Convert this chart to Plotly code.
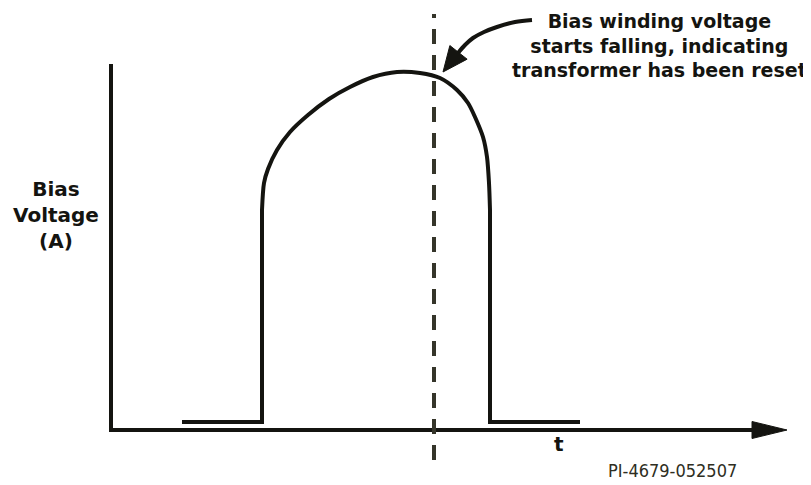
import numpy as np
import plotly.graph_objects as go

# bias winding voltage waveform (schematic units: time, voltage)
wave_t = [7.2, 15.2, 15.2, 15.4, 15.8, 16.7, 18.0, 19.8, 21.9, 24.0, 26.3, 28.7, 31.0,
          33.0, 34.7, 35.8, 36.5, 37.3, 37.7, 37.9, 38.0, 38.0, 47.0]
wave_v = [0.8, 0.8, 22.0, 24.7, 26.1, 28.0, 29.8, 31.5, 33.1, 34.3, 35.3, 35.8, 35.7,
          35.2, 34.0, 32.7, 31.3, 29.3, 27.3, 24.7, 22.0, 0.8, 0.8]

# reset instant (dashed marker) and its extent
reset_t = 32.4
reset_v = [-3.0, 41.6]

# axes extents
x_axis_end = 67.7
y_axis_top = 36.6

# callout leader curve
callout_t = [42.2, 40.5, 38.7, 37.4, 36.3, 35.5, 34.8]
callout_v = [41.0, 40.8, 40.3, 39.8, 39.2, 38.5, 37.7]
callout_tip = (33.3, 35.8)

INK = "#141410"
BOLD = "DejaVu Sans"


def head(tip, tail, length, half_w):
    """filled triangular arrowhead pointing from tail to tip"""
    tip = np.array(tip, float)
    d = tip - np.array(tail, float)
    d /= np.linalg.norm(d)
    n = np.array([-d[1], d[0]])
    base = tip - d * length
    pts = [tip, base + n * half_w, base - n * half_w, tip]
    return [p[0] for p in pts], [p[1] for p in pts]


fig = go.Figure()

# axes
fig.add_trace(go.Scatter(x=[0.1, 0.1, x_axis_end - 3.2], y=[y_axis_top, 0, 0],
                         mode="lines", line=dict(color=INK, width=4)))
hx, hy = head((x_axis_end, 0), (0, 0), 3.5, 0.85)
fig.add_trace(go.Scatter(x=hx, y=hy, mode="lines", fill="toself",
                         fillcolor=INK, line=dict(color=INK, width=1)))

# dashed reset marker
fig.add_trace(go.Scatter(x=[reset_t, reset_t], y=reset_v, mode="lines",
                         line=dict(color="#35352a", width=4, dash="15px,11px")))

# waveform: straight edges plus a smooth top
top = slice(2, len(wave_t) - 2)
fig.add_trace(go.Scatter(x=wave_t[:3], y=wave_v[:3], mode="lines",
                         line=dict(color=INK, width=4)))
fig.add_trace(go.Scatter(x=wave_t[top], y=wave_v[top], mode="lines", line_shape="spline",
                         line=dict(color=INK, width=4, smoothing=0.8)))
fig.add_trace(go.Scatter(x=wave_t[-3:], y=wave_v[-3:], mode="lines",
                         line=dict(color=INK, width=4)))

# callout arrow
fig.add_trace(go.Scatter(x=callout_t, y=callout_v, mode="lines", line_shape="spline",
                         line=dict(color=INK, width=4)))
hx, hy = head(callout_tip, (callout_t[-1], callout_v[-1]), 2.5, 1.1)
fig.add_trace(go.Scatter(x=hx, y=hy, mode="lines", fill="toself",
                         fillcolor=INK, line=dict(color=INK, width=1)))

fig.add_annotation(x=54.9, y=38.5, text="<b>Bias winding voltage<br>starts falling, indicating<br>transformer has been reset</b>",
                   showarrow=False, align="center", font=dict(family=BOLD, size=19, color=INK))
fig.add_annotation(x=-5.4, y=21.5, text="<b>Bias<br>Voltage<br>(A)</b>",
                   showarrow=False, align="center", font=dict(family=BOLD, size=20, color=INK))
fig.add_annotation(x=44.9, y=-1.4, text="<b>t</b>",
                   showarrow=False, font=dict(family=BOLD, size=20, color=INK))
fig.add_annotation(x=56.2, y=-4.0, text="PI-4679-052507",
                   showarrow=False, font=dict(family="DejaVu Sans Condensed", size=18, color="#2e2e22"))

# the page body adds an 8px margin, so the figure is sized to the visible area
fig.update_xaxes(visible=False, range=[-10.2, 70.1], fixedrange=True)
fig.update_yaxes(visible=False, range=[-5.5, 42.2], fixedrange=True)
fig.update_layout(width=803, height=477, margin=dict(l=0, r=0, t=0, b=0),
                  plot_bgcolor="white", paper_bgcolor="white",
                  showlegend=False, hovermode=False)

fig.write_html("out.html")
